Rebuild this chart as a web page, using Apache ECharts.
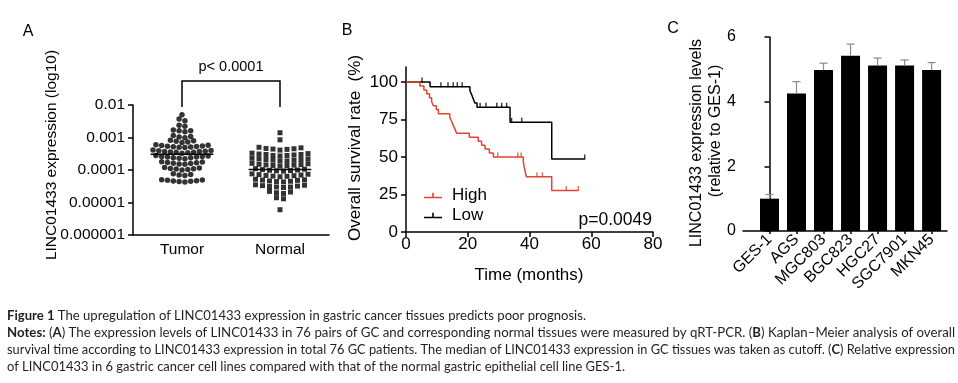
<!DOCTYPE html>
<html><head><meta charset="utf-8">
<script src="https://cdn.jsdelivr.net/npm/echarts@6/dist/echarts.min.js"></script>
<style>html,body{margin:0;padding:0;background:#fff}#c{width:958px;height:383px}</style>
</head><body><div id="c"></div>
<script>
// ---------- Panel A data ----------
const groupsA = ['Tumor', 'Normal'];
const tumorValues = [
  0.0050,
  0.0037, 0.0033,
  0.0024, 0.0022,
  0.0017, 0.0016, 0.0016, 0.0015,
  0.00115, 0.00108, 0.00104, 0.00098,
  0.00082, 0.00079, 0.00076, 0.00073, 0.00070,
  0.00060, 0.00058, 0.00057, 0.00055, 0.00054, 0.00053, 0.00052, 0.00051, 0.00050, 0.00049,
  0.00041, 0.00040, 0.00039, 0.00038, 0.00037, 0.00037, 0.00036, 0.00035, 0.00035, 0.00034, 0.00033,
  0.00028, 0.00027, 0.00026, 0.00026, 0.00025, 0.00025, 0.00024, 0.00024, 0.00023, 0.00022,
  0.000180, 0.000175, 0.000170, 0.000166, 0.000162, 0.000158, 0.000154, 0.000150,
  0.000120, 0.000116, 0.000112, 0.000110, 0.000107, 0.000104, 0.000100,
  0.000076, 0.000073, 0.000070, 0.000068,
  0.000050, 0.000049, 0.000048, 0.000047, 0.000046, 0.000045, 0.000044, 0.000043
];
const normalValues = [
  0.0014,
  0.00085,
  0.00050, 0.00048, 0.00046, 0.00045, 0.00044, 0.00043, 0.00041,
  0.00033, 0.00032, 0.00031, 0.00030, 0.00030, 0.00029, 0.00028, 0.00028, 0.00027,
  0.00023, 0.00022, 0.00022, 0.00021, 0.00021, 0.00020, 0.00020, 0.00019, 0.00019,
  0.000160, 0.000155, 0.000150, 0.000147, 0.000144, 0.000141, 0.000138, 0.000135, 0.000132,
  0.000110, 0.000106, 0.000103, 0.000100, 0.000098, 0.000096, 0.000094, 0.000092,
  0.000076, 0.000074, 0.000072, 0.000070, 0.000068, 0.000067, 0.000065, 0.000064, 0.000062,
  0.000052, 0.000050, 0.000049, 0.000048, 0.000046, 0.000045, 0.000044, 0.000043,
  0.000035, 0.000034, 0.000033, 0.000032, 0.000031, 0.000030, 0.000030, 0.000029,
  0.000022, 0.000021, 0.000020, 0.000019,
  0.000014, 0.000013,
  0.0000060
];
const yTickLabelsA = ['0.000001', '0.00001', '0.0001', '0.001', '0.01'];
const pTextA = 'p< 0.0001';

// ---------- Panel B data (Kaplan–Meier) ----------
const kmHighTimes = [0, 4.5, 5.8, 6.7, 7.6, 8.3, 8.9, 9.8, 10.5, 14.2, 14.8, 15.3, 15.9, 16.4, 20.5, 23.4, 24.5, 25.6, 27.0, 28.3, 38.0, 38.3, 38.6, 39.0, 47.2, 55.8];
const kmHighSurv  = [100, 97.4, 94.7, 92.1, 89.5, 86.8, 84.2, 81.6, 78.9, 76.3, 73.7, 71.1, 68.4, 65.8, 63.2, 60.5, 57.9, 55.3, 52.6, 50.0, 46.6, 43.3, 40.1, 36.8, 27.6, 27.6];
const kmHighCensor = [29.7, 36.2, 37.3, 42.4, 44.2, 51.9, 55.8];
const kmLowTimes = [0, 7.8, 20.7, 21.3, 21.8, 22.3, 23.0, 33.7, 47.2, 57.9];
const kmLowSurv  = [100, 96.9, 94.2, 91.4, 88.7, 86.0, 83.2, 73.1, 48.7, 48.7];
const kmLowCensor = [5.2, 11.3, 13.6, 15.3, 16.6, 18.2, 24.0, 25.9, 29.4, 31.0, 32.6, 34.2, 37.5, 57.9];
const kmGroups = ['High', 'Low'];
const yTicksB = [0, 25, 50, 75, 100];
const pTextB = 'p=0.0049';

// ---------- Panel C data ----------
const cellLines = ['GES-1', 'AGS', 'MGC803', 'BGC823', 'HGC27', 'SGC7901', 'MKN45'];
const cellMeans = [1.0, 4.25, 4.98, 5.42, 5.12, 5.12, 4.98];
const cellErrors = [0.13, 0.37, 0.21, 0.36, 0.23, 0.17, 0.23];

// ---------- helpers ----------
const FONT = "'Liberation Sans', Arial, sans-serif";
function swarm(values, center, step, thr) {
  const sorted = values.slice().sort((a, b) => b - a);
  const rows = []; let cur = null;
  sorted.forEach(v => {
    const lv = Math.log10(v);
    if (!cur || cur.start - lv > thr) { cur = { start: lv, vals: [] }; rows.push(cur); }
    cur.vals.push(v);
  });
  const pts = [];
  rows.forEach(r => {
    const n = r.vals.length; const offs = [];
    for (let i = 0; i < n; i++) offs.push((i - (n - 1) / 2) * step);
    offs.sort((a, b) => Math.abs(b) - Math.abs(a) || a - b);
    r.vals.forEach((v, i) => pts.push([center + offs[i], v]));
  });
  return pts;
}
function geoMean(vals) { return Math.pow(10, vals.reduce((s, v) => s + Math.log10(v), 0) / vals.length); }
function survAt(times, surv, t) { let s = surv[0]; for (let i = 0; i < times.length; i++) if (times[i] <= t) s = surv[i]; return s; }
const zip = (a, b) => a.map((v, i) => [v, b[i]]);

const tumorMean = geoMean(tumorValues), normalMean = geoMean(normalValues);
const halfW = 0.32;
const RED = '#e0462f';
const axisLine = { lineStyle: { color: '#000', width: 1.5 } };
const tickStyle = { lineStyle: { color: '#000', width: 1.5 } };

const chart = echarts.init(document.getElementById('c'), null, { renderer: 'canvas' });
const option = {
  animation: false,
  backgroundColor: '#fff',
  textStyle: { fontFamily: FONT, color: '#000' },
  grid: [
    { left: 133, top: 105, width: 196, height: 130, outerBoundsMode: 'none', containLabel: false },
    { left: 406, top: 67, width: 247, height: 165, outerBoundsMode: 'none', containLabel: false },
    { left: 743, top: 37, width: 204, height: 194, outerBoundsMode: 'none', containLabel: false }
  ],
  xAxis: [
    { gridIndex: 0, type: 'category', data: groupsA, boundaryGap: true, axisLine,
      axisTick: { alignWithLabel: true, length: 5, ...tickStyle },
      axisLabel: { fontSize: 15.5, color: '#000', margin: 7 }, splitLine: { show: false } },
    { gridIndex: 0, type: 'value', min: 0, max: 2, show: false },
    { gridIndex: 1, type: 'value', min: 0, max: 80, interval: 20, axisLine,
      axisTick: { length: 5, ...tickStyle },
      axisLabel: { fontSize: 17, color: '#000', margin: 4 }, splitLine: { show: false } },
    { gridIndex: 2, type: 'value', min: -0.98, max: 6.57, axisLine,
      axisTick: { show: true, length: 3, customValues: [0, 1, 2, 3, 4, 5, 6], ...tickStyle },
      axisLabel: { fontSize: 16, color: '#000', rotate: 45, margin: 6,
        customValues: [0, 1, 2, 3, 4, 5, 6], formatter: v => cellLines[Math.round(v)] },
      splitLine: { show: false } }
  ],
  yAxis: [
    { gridIndex: 0, type: 'log', logBase: 10, min: 0.000001, max: 0.01, axisLine,
      axisTick: { show: true, length: 5, ...tickStyle },
      axisLabel: { fontSize: 15.5, color: '#000', margin: 8,
        formatter: v => yTickLabelsA[Math.round(Math.log10(v)) + 6] },
      splitLine: { show: false }, minorTick: { show: false } },
    { gridIndex: 1, type: 'value', min: 0, max: 110, axisLine,
      axisTick: { show: true, length: 5, customValues: yTicksB, ...tickStyle },
      axisLabel: { fontSize: 17, color: '#000', margin: 8, customValues: yTicksB },
      splitLine: { show: false } },
    { gridIndex: 2, type: 'value', min: 0, max: 6, interval: 2, axisLine,
      axisTick: { show: true, length: 5, ...tickStyle },
      axisLabel: { fontSize: 16, color: '#000', margin: 7 }, splitLine: { show: false } }
  ],
  legend: {
    data: kmGroups, orient: 'vertical', left: 419, top: 182, itemWidth: 18, itemHeight: 8, itemGap: 3,
    icon: 'path://M0,6H18V7.6H0Z M8.2,2H9.8V6H8.2Z', selectedMode: false,
    textStyle: { fontSize: 17, color: '#000', padding: [0, 0, 0, 5], fontFamily: FONT }
  },
  series: [
    { type: 'scatter', name: 'Tumor', xAxisIndex: 1, yAxisIndex: 0, symbol: 'circle', symbolSize: 5.5,
      itemStyle: { color: '#000' }, data: swarm(tumorValues, 0.5, 0.0592, 0.12) },
    { type: 'scatter', name: 'Normal', xAxisIndex: 1, yAxisIndex: 0, symbol: 'rect', symbolSize: 5,
      itemStyle: { color: '#000' }, data: swarm(normalValues, 1.5, 0.0714, 0.12) },
    { type: 'line', name: 'Tumor mean', xAxisIndex: 1, yAxisIndex: 0, symbol: 'none',
      lineStyle: { color: '#000', width: 1.5 }, data: [[0.5 - halfW, tumorMean], [0.5 + halfW, tumorMean]] },
    { type: 'line', name: 'Normal mean', xAxisIndex: 1, yAxisIndex: 0, symbol: 'none',
      lineStyle: { color: '#000', width: 1.5 }, data: [[1.5 - halfW, normalMean], [1.5 + halfW, normalMean]] },

    { type: 'line', name: 'Low', xAxisIndex: 2, yAxisIndex: 1, step: 'end', showSymbol: false, symbol: 'none',
      itemStyle: { color: '#000' }, lineStyle: { color: '#000', width: 1.5 }, data: zip(kmLowTimes, kmLowSurv) },
    { type: 'line', name: 'High', xAxisIndex: 2, yAxisIndex: 1, step: 'end', showSymbol: false, symbol: 'none',
      itemStyle: { color: RED }, lineStyle: { color: RED, width: 1.5 }, data: zip(kmHighTimes, kmHighSurv) },
    { type: 'scatter', name: 'Low censored', xAxisIndex: 2, yAxisIndex: 1, symbol: 'rect', symbolSize: [1.4, 5],
      symbolOffset: [0, -2], itemStyle: { color: '#000' },
      data: kmLowCensor.map(t => [t, survAt(kmLowTimes, kmLowSurv, t)]) },
    { type: 'scatter', name: 'High censored', xAxisIndex: 2, yAxisIndex: 1, symbol: 'rect', symbolSize: [1.4, 5],
      symbolOffset: [0, -2], itemStyle: { color: RED },
      data: kmHighCensor.map(t => [t, survAt(kmHighTimes, kmHighSurv, t)]) },

    { type: 'bar', name: 'Expression', xAxisIndex: 3, yAxisIndex: 2, barWidth: 19,
      itemStyle: { color: '#000' }, data: cellMeans.map((m, i) => [i, m]) },
    { type: 'custom', name: 'SEM', xAxisIndex: 3, yAxisIndex: 2, z: 3,
      data: cellMeans.map((m, i) => [i, m, cellErrors[i]]),
      renderItem: (params, api) => {
        const x = api.value(0), m = api.value(1), e = api.value(2);
        const top = api.coord([x, m + e]), base = api.coord([x, m]);
        const st = { stroke: '#8a8a8a', lineWidth: 1.2 };
        return { type: 'group', children: [
          { type: 'line', shape: { x1: top[0], y1: base[1], x2: top[0], y2: top[1] }, style: st },
          { type: 'line', shape: { x1: top[0] - 4, y1: top[1], x2: top[0] + 4, y2: top[1] }, style: st }
        ] };
      } }
  ]
};
chart.setOption(option);

// ---------- annotations ----------
const CAP_FONT = 'Lato';
const CAP_SIZE = 12.5;
const captionLines = [
  { segs: [{ t: 'Figure 1', b: 1 }, { t: ' The upregulation of LINC01433 expression in gastric cancer tissues predicts poor prognosis.' }], w: 579, y: 316 },
  { segs: [{ t: 'Notes:', b: 1 }, { t: ' (' }, { t: 'A', b: 1 }, { t: ') The expression levels of LINC01433 in 76 pairs of GC and corresponding normal tissues were measured by qRT-PCR. (' }, { t: 'B', b: 1 }, { t: ') Kaplan–Meier analysis of overall' }], w: 948, y: 333 },
  { segs: [{ t: 'survival time according to LINC01433 expression in total 76 GC patients. The median of LINC01433 expression in GC tissues was taken as cutoff. (' }, { t: 'C', b: 1 }, { t: ') Relative expression' }], w: 948, y: 350 },
  { segs: [{ t: 'of LINC01433 in 6 gastric cancer cell lines compared with that of the normal gastric epithelial cell line GES-1.' }], w: 618, y: 367 }
];
const mctx = document.createElement('canvas').getContext('2d');
function measure(segs) {
  let w = 0;
  segs.forEach(s => { mctx.font = (s.b ? 'bold ' : '') + CAP_SIZE + 'px ' + CAP_FONT; w += mctx.measureText(s.t).width; });
  return w;
}
const graphics = [];
captionLines.forEach(line => {
  const nat = measure(line.segs);
  graphics.push({
    type: 'text', x: 7, y: line.y, scaleX: line.w / nat, scaleY: 1,
    style: {
      text: line.segs.map(s => s.b ? '{b|' + s.t + '}' : s.t).join(''),
      fontFamily: CAP_FONT, fontSize: CAP_SIZE, fill: '#231f20', align: 'left', verticalAlign: 'middle',
      rich: { b: { fontFamily: CAP_FONT, fontSize: CAP_SIZE, fontWeight: 'bold', fill: '#231f20' } }
    }
  });
});
function txt(text, x, y, size, opts) {
  return Object.assign({ type: 'text', x, y, style: Object.assign({ text, fontFamily: FONT, fontSize: size, fill: '#000', align: 'center', verticalAlign: 'middle' }, (opts && opts.style) || {}) }, (opts && opts.el) || {});
}
graphics.push(txt('A', 28, 32, 16));
graphics.push(txt('B', 347, 31, 16));
graphics.push(txt('C', 673, 29, 16));
graphics.push(txt('LINC01433 expression (log10)', 52, 155, 15.5, { el: { rotation: Math.PI / 2 } }));
graphics.push(txt('Overall survival rate  (%)', 355, 148, 17, { el: { rotation: Math.PI / 2 } }));
graphics.push(txt('Time (months)', 529, 275, 17));
graphics.push(txt('LINC01433 expression levels', 697, 143, 16, { el: { rotation: Math.PI / 2 } }));
graphics.push(txt('(relative to GES-1)', 716, 131, 16, { el: { rotation: Math.PI / 2 } }));
graphics.push(txt(pTextB, 652, 220, 17.5, { style: { align: 'right' } }));
const xT = chart.convertToPixel({ xAxisIndex: 1 }, 0.5);
const xN = chart.convertToPixel({ xAxisIndex: 1 }, 1.5);
graphics.push(txt(pTextA, (xT + xN) / 2, 67, 14.5));
graphics.push({ type: 'polyline', shape: { points: [[xT, 107], [xT, 81], [xN, 81], [xN, 107]] },
  style: { stroke: '#000', lineWidth: 1.5, fill: null } });
chart.setOption({ graphic: graphics });
</script>
</body></html>
